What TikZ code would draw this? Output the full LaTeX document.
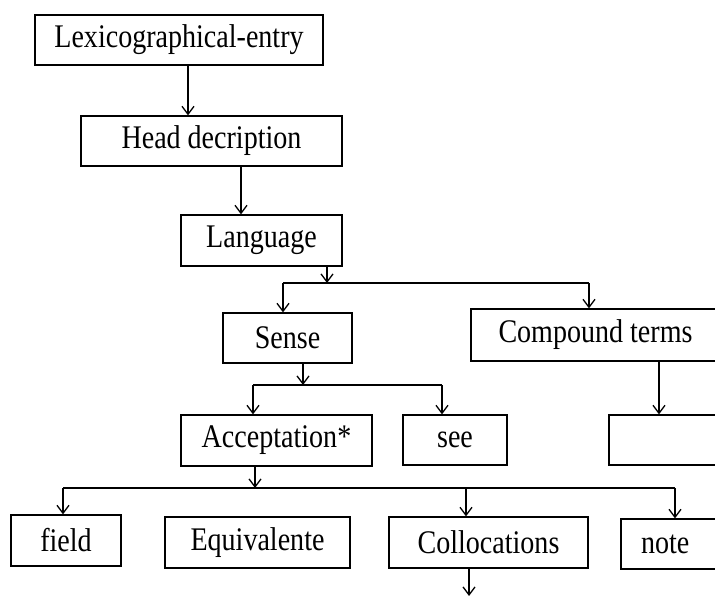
\documentclass[tikz,border=0pt]{standalone}
\usepackage{fontspec}
\setmainfont{Liberation Serif}[FakeStretch=0.85]
\usetikzlibrary{arrows.meta}
\tikzstyle{entry-box} = [draw=black, line width=1.3pt, rectangle,
    inner sep=0pt, font=\fontsize{33}{36}\selectfont]
\tikzstyle{down-arrow} = [draw=black, line width=1.3pt,
    -{Straight Barb[length=8pt,width=12pt,line width=1.3pt]}]
\tikzstyle{fork-line} = [draw=black, line width=1.3pt]

\begin{document}
\begin{tikzpicture}[x=1pt,y=-1pt]
\useasboundingbox (0,0) rectangle (715,596);
\clip (0,0) rectangle (715,596);
% boxes
\node [entry-box, minimum width=288pt, minimum height=50pt] (lex) at (179,40) {Lexicographical-entry};
\node [entry-box, minimum width=261pt, minimum height=50pt] (head) at (211.5,141) {Head decription};
\node [entry-box, minimum width=161pt, minimum height=51pt] (lang) at (261.5,240.5) {Language};
\node [entry-box, minimum width=129pt, minimum height=50pt] (sense) at (287.5,338) {Sense};
\node [entry-box, minimum width=249pt, minimum height=52pt] (compound) at (595.5,335) {Compound terms};
\node [entry-box, minimum width=191pt, minimum height=51pt] (accept) at (276.5,440.5) {Acceptation*};
\node [entry-box, minimum width=104pt, minimum height=50pt] (see) at (455,440) {see};
\node [entry-box, minimum width=111pt, minimum height=50pt] (blank) at (664.5,440) {};
\node [entry-box, minimum width=110pt, minimum height=51pt] (field) at (66,540.5) {field};
\node [entry-box, minimum width=185pt, minimum height=51pt] (equiv) at (257.5,542.5) {Equivalente};
\node [entry-box, minimum width=199pt, minimum height=51pt] (colloc) at (488.5,542.5) {Collocations};
\node [entry-box, minimum width=124pt, minimum height=50pt] (note) at (683,544) {\makebox[84pt][l]{note}};
% fork points
\coordinate (fork-lang) at (327,283);
\coordinate (fork-sense) at (303,385);
\coordinate (fork-accept) at (255,488);
\coordinate (colloc-end) at (469,596);
% connectors
\draw [down-arrow] ([xshift=9pt]lex.south) -- ([xshift=9pt]lex.south |- head.north);
\draw [down-arrow] ([xshift=29.5pt]head.south) -- ([xshift=29.5pt]head.south |- lang.north);
\draw [down-arrow] ([xshift=65.5pt]lang.south) -- (fork-lang);
\draw [fork-line] ([xshift=-4.5pt]sense.north |- fork-lang) -- ([xshift=-6.5pt]compound.north |- fork-lang);
\draw [down-arrow] ([xshift=-4.5pt]sense.north |- fork-lang) -- ([xshift=-4.5pt]sense.north);
\draw [down-arrow] ([xshift=-6.5pt]compound.north |- fork-lang) -- ([xshift=-6.5pt]compound.north);
\draw [down-arrow] ([xshift=15.5pt]sense.south) -- (fork-sense);
\draw [fork-line] ([xshift=-23.5pt]accept.north |- fork-sense) -- ([xshift=-13pt]see.north |- fork-sense);
\draw [down-arrow] ([xshift=-23.5pt]accept.north |- fork-sense) -- ([xshift=-23.5pt]accept.north);
\draw [down-arrow] ([xshift=-13pt]see.north |- fork-sense) -- ([xshift=-13pt]see.north);
\draw [down-arrow] ([xshift=63.5pt]compound.south) -- ([xshift=63.5pt]compound.south |- blank.north);
\draw [down-arrow] ([xshift=-21.5pt]accept.south) -- (fork-accept);
\draw [fork-line] ([xshift=-3pt]field.north |- fork-accept) -- ([xshift=-8pt]note.north |- fork-accept);
\draw [down-arrow] ([xshift=-3pt]field.north |- fork-accept) -- ([xshift=-3pt]field.north);
\draw [down-arrow] ([xshift=-22.5pt]colloc.north |- fork-accept) -- ([xshift=-22.5pt]colloc.north);
\draw [down-arrow] ([xshift=-8pt]note.north |- fork-accept) -- ([xshift=-8pt]note.north);
\draw [down-arrow] ([xshift=-19.5pt]colloc.south) -- (colloc-end);
\end{tikzpicture}
\end{document}
